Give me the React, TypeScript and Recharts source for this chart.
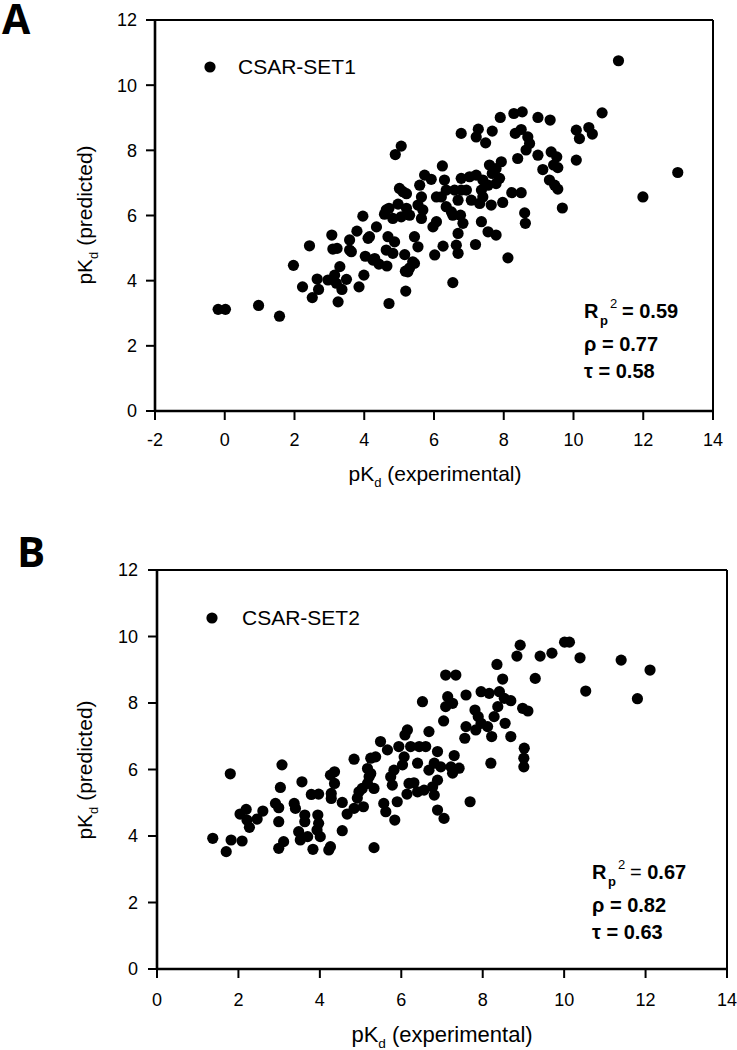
import React from "react";
import { ScatterChart, Scatter, XAxis, YAxis, ReferenceLine } from "recharts";

// CSAR-SET1: [pKd experimental, pKd predicted]
const set1: [number, number][] = [
  [-0.19, 3.12], [0.02, 3.12], [0.97, 3.24], [1.57, 2.91], [1.97, 4.47],
  [2.23, 3.81], [2.51, 3.48], [2.65, 4.05], [2.69, 3.73], [2.43, 5.07],
  [3.1, 4.97], [3.22, 4.99], [2.96, 4.02], [3.15, 4.17], [3.3, 4.43],
  [3.2, 3.92], [3.36, 3.73], [3.25, 3.35], [3.49, 4.04], [3.58, 4.94],
  [3.85, 3.81], [3.99, 4.17], [4.03, 4.75], [3.07, 5.4], [3.58, 5.25],
  [3.79, 5.52], [3.96, 5.98], [4.11, 5.3], [5.06, 8.13], [4.89, 7.87],
  [5.01, 6.83], [5.21, 6.67], [3.63, 4.89], [4.15, 5.35], [4.35, 5.65],
  [4.58, 6.04], [4.71, 6.22], [4.97, 6.35], [5.06, 5.96], [4.82, 5.91],
  [4.68, 5.35], [4.87, 5.19], [4.63, 4.94], [4.82, 4.84], [4.25, 4.63],
  [4.42, 4.51], [4.65, 4.45], [5.18, 4.29], [5.19, 3.68], [4.71, 3.3],
  [5.16, 4.8], [4.63, 6.17], [4.3, 4.68], [5.3, 4.39], [5.39, 4.58],
  [10.82, 9.15], [10.08, 8.62], [10.17, 8.36], [10.44, 8.7], [10.54, 8.5],
  [10.08, 7.7], [9.68, 6.23], [9.36, 7.95], [9.52, 7.8], [9.43, 7.55],
  [9.55, 7.47], [9.12, 7.41], [9.31, 7.09], [9.46, 6.93], [9.55, 6.81],
  [9.33, 8.93], [8.98, 9.01], [8.98, 7.85], [8.53, 9.18], [8.29, 9.13],
  [7.9, 9.01], [8.33, 8.52], [8.5, 8.64], [8.69, 8.41], [8.74, 8.21],
  [8.64, 8.01], [8.4, 7.75], [7.67, 8.59], [7.27, 8.65], [7.21, 8.41],
  [7.48, 8.23], [6.78, 8.52], [7.93, 7.65], [7.78, 7.44], [7.59, 7.55],
  [7.67, 7.29], [7.88, 7.14], [7.78, 6.98], [7.55, 6.93], [7.4, 7.09],
  [7.21, 7.24], [7.36, 6.78], [7.4, 6.57], [7.31, 6.37], [7.64, 6.32],
  [7.97, 6.4], [8.23, 6.7], [8.5, 6.7], [8.6, 6.08], [8.62, 5.76],
  [8.12, 4.7], [7.19, 5.11], [7.36, 5.81], [7.55, 5.5], [7.78, 5.4],
  [7.07, 6.47], [6.93, 6.78], [6.78, 7.14], [6.78, 6.78], [6.59, 6.78],
  [6.69, 6.47], [6.54, 6.01], [6.76, 6.01], [6.83, 5.76], [6.69, 5.45],
  [6.64, 5.09], [6.69, 4.84], [6.26, 5.06], [6.02, 4.79], [6.54, 3.94],
  [6.3, 7.09], [6.24, 7.52], [6.35, 6.78], [6.21, 6.57], [6.35, 6.27],
  [6.5, 6.11], [6.07, 6.57], [5.97, 5.65], [6.07, 5.81], [5.73, 7.24],
  [5.92, 7.11], [5.59, 6.93], [5.64, 6.57], [5.54, 6.32], [5.68, 6.17],
  [5.64, 5.91], [5.21, 6.22], [5.3, 6.01], [5.11, 6.73], [5.44, 5.35],
  [5.54, 5.04], [5.44, 4.53], [5.25, 4.27], [7.02, 7.19], [11.29, 10.75],
  [12.99, 7.32], [11.99, 6.57],
];

// CSAR-SET2: [pKd experimental, pKd predicted]
const set2: [number, number][] = [
  [1.37, 3.93], [1.7, 3.53], [1.8, 5.87], [1.82, 3.88], [2.09, 3.85],
  [2.04, 4.66], [2.19, 4.8], [2.27, 4.26], [2.21, 4.48], [2.46, 4.51],
  [2.6, 4.75], [2.99, 4.43], [2.91, 4.98], [2.99, 4.85], [3.03, 5.46],
  [3.07, 6.14], [2.99, 3.63], [3.11, 3.83], [3.37, 4.98], [3.4, 4.83],
  [3.56, 5.63], [3.63, 4.63], [3.63, 4.43], [3.48, 4.13], [3.52, 3.88],
  [3.7, 3.98], [3.83, 3.6], [3.79, 5.25], [3.97, 5.26], [3.95, 4.63],
  [3.97, 4.38], [3.93, 4.18], [4.01, 3.98], [4.22, 3.58], [4.26, 3.68],
  [4.28, 5.28], [4.28, 5.13], [4.26, 5.83], [4.36, 5.93], [4.36, 5.58],
  [4.55, 5.01], [4.55, 4.16], [4.67, 4.66], [4.84, 4.83], [4.84, 6.31],
  [5.07, 4.88], [5.33, 3.65], [4.96, 5.33], [5.04, 5.43], [5.17, 5.58],
  [5.21, 5.78], [5.17, 6.03], [5.25, 6.34], [5.37, 6.38], [5.33, 5.43],
  [5.49, 6.84], [5.66, 6.59], [5.57, 4.98], [5.62, 4.73], [5.84, 4.48],
  [5.9, 5.03], [5.78, 5.53], [5.74, 5.78], [5.82, 5.98], [5.94, 6.69],
  [6.09, 7.04], [6.03, 6.14], [6.14, 5.26], [6.19, 5.58], [5.25, 5.88],
  [4.92, 5.14], [10.01, 9.83], [10.13, 9.83], [10.39, 9.36], [10.53, 8.36],
  [11.4, 9.29], [9.7, 9.5], [9.41, 9.41], [8.92, 9.74], [8.84, 9.41],
  [9.29, 8.74], [8.35, 9.16], [8.49, 8.72], [7.09, 8.84], [7.34, 8.84],
  [7.96, 8.34], [8.16, 8.29], [8.41, 8.34], [8.53, 8.14], [8.69, 8.07],
  [8.37, 7.89], [8.28, 7.59], [8.55, 7.39], [8.98, 7.84], [9.11, 7.76],
  [8.69, 6.99], [9.02, 6.64], [9.01, 6.34], [9.01, 6.08], [8.2, 6.19],
  [8.22, 6.99], [8.12, 7.29], [7.96, 7.39], [7.81, 7.79], [7.89, 7.59],
  [7.59, 8.24], [7.59, 7.29], [7.56, 6.94], [7.83, 7.19], [7.14, 8.19],
  [7.26, 7.99], [7.09, 7.89], [6.52, 8.04], [7.04, 7.46], [6.68, 7.14],
  [6.15, 7.19], [6.23, 6.69], [6.44, 6.69], [6.6, 6.69], [6.89, 6.54],
  [7.3, 6.42], [7.22, 6.08], [7.42, 6.04], [7.26, 5.89], [6.97, 6.08],
  [6.81, 6.19], [6.68, 5.98], [6.4, 6.19], [6.07, 6.38], [6.89, 5.68],
  [6.77, 5.48], [6.56, 5.38], [6.31, 5.6], [6.4, 5.33], [6.81, 5.23],
  [6.89, 4.78], [7.05, 4.53], [7.69, 5.03], [12.11, 8.99], [11.8, 8.13],
];

const xTicks1 = [-2, 0, 2, 4, 6, 8, 10, 12, 14];
const xTicks2 = [0, 2, 4, 6, 8, 10, 12, 14];
const yTicks = [0, 2, 4, 6, 8, 10, 12];

const legend1 = "CSAR-SET1";
const legend2 = "CSAR-SET2";
const stats1 = ["0.59", "0.77", "0.58"]; // Rp^2, rho, tau
const stats2 = ["0.67", "0.82", "0.63"];

const FONT = "'Liberation Sans', Arial, Helvetica, sans-serif";

const Dot = (props: any) => (
  <circle cx={props.cx} cy={props.cy} r={5.6} fill="#000" />
);

type PanelProps = {
  points: [number, number][];
  xTicks: number[];
  height: number;
  margin: { top: number; right: number; bottom: number; left: number };
  xTickMargin: number;
  yTickMargin: number;
};

const Panel = ({ points, xTicks, height, margin, xTickMargin, yTickMargin }: PanelProps) => {
  const data = points.map(([x, y]) => ({ x, y }));
  const tick = { fill: "#000", fontSize: 18, fontFamily: FONT };
  const lo = xTicks[0];
  const hi = xTicks[xTicks.length - 1];
  return (
    <ScatterChart width={737} height={height} margin={margin}>
      <XAxis
        type="number"
        dataKey="x"
        domain={[lo, hi]}
        ticks={xTicks}
        interval={0}
        height={40}
        tick={tick}
        tickSize={9}
        tickMargin={xTickMargin}
        axisLine={{ stroke: "#000", strokeWidth: 2.6 }}
        tickLine={{ stroke: "#000", strokeWidth: 2 }}
      />
      <YAxis
        type="number"
        dataKey="y"
        domain={[0, 12]}
        ticks={yTicks}
        interval={0}
        width={60}
        tick={tick}
        tickSize={9}
        tickMargin={yTickMargin}
        axisLine={{ stroke: "#000", strokeWidth: 2.6 }}
        tickLine={{ stroke: "#000", strokeWidth: 2 }}
      />
      {/* frame: thinner top and right sides */}
      <ReferenceLine y={12} stroke="#000" strokeWidth={1.8} />
      <ReferenceLine x={hi} stroke="#000" strokeWidth={2} />
      <Scatter data={data} shape={Dot} isAnimationActive={false} />
    </ScatterChart>
  );
};

const Stats = ({ x, y, values, thinEq }: { x: number; y: number; values: string[]; thinEq?: boolean }) => (
  <g fontFamily={FONT} fontWeight="bold" fill="#000">
    <text x={x} y={y} fontSize={20}>R</text>
    <text x={x + 16} y={y + 7} fontSize={13}>p</text>
    <text x={x + 26} y={y - 10} fontSize={13} fontWeight="normal">2</text>
    <text x={x + 38} y={y} fontSize={20}>
      <tspan fontWeight={thinEq ? "normal" : "bold"}>=</tspan> {values[0]}
    </text>
    <text x={x} y={y + 33} fontSize={20}>ρ = {values[1]}</text>
    <text x={x} y={y + 60} fontSize={20}>τ = {values[2]}</text>
  </g>
);

const AxisTitles = ({ cx, baseY, cy, size }: { cx: number; baseY: number; cy: number; size: number }) => (
  <g fontFamily={FONT} fill="#000">
    <text x={cx} y={baseY} fontSize={size} textAnchor="middle">
      pK<tspan fontSize={size * 0.62} dy={6}>d</tspan>
      <tspan dy={-6}> (experimental)</tspan>
    </text>
    <text x={92} y={cy} fontSize={21} textAnchor="middle" transform={`rotate(-90 92 ${cy})`}>
      pK<tspan fontSize={13} dy={6}>d</tspan>
      <tspan dy={-6}> (predicted)</tspan>
    </text>
  </g>
);

export default function App() {
  return (
    <div style={{ position: "absolute", left: 0, top: 0, width: 737, height: 1050, background: "#fff" }}>
      <div style={{ position: "absolute", left: 0, top: 0 }}>
        <Panel
          points={set1}
          xTicks={xTicks1}
          height={500}
          margin={{ top: 20, right: 24, bottom: 49, left: 95 }}
          xTickMargin={13}
          yTickMargin={9}
        />
      </div>
      <div style={{ position: "absolute", left: 0, top: 500 }}>
        <Panel
          points={set2}
          xTicks={xTicks2}
          height={550}
          margin={{ top: 70, right: 10, bottom: 41, left: 97 }}
          xTickMargin={15}
          yTickMargin={10}
        />
      </div>
      <svg
        width={737}
        height={1050}
        style={{ position: "absolute", left: 0, top: 0, pointerEvents: "none" }}
      >
        <text x={2} y={34} fontFamily="'Open Sans', sans-serif" fontWeight="bold" fontSize={41}>A</text>
        <text x={17} y={567} fontFamily="'Open Sans', sans-serif" fontWeight="bold" fontSize={42}>B</text>

        <circle cx={210} cy={67} r={5.6} fill="#000" />
        <text x={238} y={74} fontFamily={FONT} fontSize={21}>{legend1}</text>
        <circle cx={212} cy={618} r={5.6} fill="#000" />
        <text x={242} y={625} fontFamily={FONT} fontSize={21}>{legend2}</text>

        <Stats x={584} y={318} values={stats1} />
        <Stats x={592} y={879} values={stats2} thinEq />

        <AxisTitles cx={435} baseY={481} cy={215} size={21} />
        <AxisTitles cx={442} baseY={1042} cy={770} size={22} />
      </svg>
    </div>
  );
}
